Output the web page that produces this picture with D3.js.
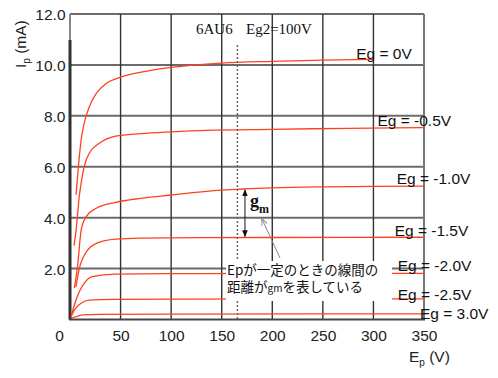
<!DOCTYPE html>
<html>
<head>
<meta charset="utf-8">
<script src="https://cdn.jsdelivr.net/npm/d3@7"></script>
<style>
  body { margin: 0; background: #fff; }
  svg { display: block; }
</style>
</head>
<body>
<script>
// axis ticks
const epTicks = [0, 50, 100, 150, 200, 250, 300, 350];
const ipTicks = [2, 4, 6, 8, 10, 12];

// plate characteristics (Ep in V, Ip in mA)
const ep0 = [6, 9, 11, 14, 19, 26, 36, 50, 75, 100, 150, 200, 250, 300];
const ip0 = [4.9, 6.3, 7.05, 7.7, 8.35, 8.88, 9.28, 9.52, 9.75, 9.9, 10.07, 10.14, 10.19, 10.22];
const ep05 = [4, 6, 7.6, 9.2, 11, 14, 19, 29, 45, 70, 100, 135, 200, 275, 350];
const ip05 = [2.9, 3.5, 4.17, 4.85, 5.35, 6.0, 6.53, 6.92, 7.2, 7.3, 7.37, 7.43, 7.47, 7.51, 7.54];
const ep10 = [4.3, 7.6, 11, 16, 26, 45, 70, 100, 150, 200, 250, 300, 350];
const ip10 = [1.23, 2.14, 3.5, 4.04, 4.37, 4.6, 4.76, 4.89, 5.08, 5.17, 5.21, 5.23, 5.24];
const ep15 = [5.9, 9.2, 12.6, 17.5, 26, 45, 70, 100, 200, 350];
const ip15 = [1.28, 2.01, 2.4, 2.73, 2.99, 3.16, 3.2, 3.21, 3.22, 3.23];
const ep20 = [1, 4.3, 9.2, 14, 22, 45, 100, 200, 350];
const ip20 = [0.11, 0.57, 1.09, 1.42, 1.68, 1.78, 1.8, 1.81, 1.81];
const ep25 = [1, 4.3, 11, 19, 45, 100, 350];
const ip25 = [0.11, 0.37, 0.64, 0.76, 0.79, 0.8, 0.81];
const ep30 = [1, 6, 12.6, 30, 100, 350];
const ip30 = [0.05, 0.11, 0.18, 0.2, 0.21, 0.22];

const curveNames = ["Eg = 0V", "Eg = -0.5V", "Eg = -1.0V", "Eg = -1.5V", "Eg = -2.0V", "Eg = -2.5V", "Eg = 3.0V"];
// where each label sits (Ep, Ip) in data units
const labelEp = [283, 304, 323, 321, 324, 324, 346];
const labelIp = [10.3, 7.67, 5.4, 3.35, 1.99, 0.85, 0.1];

const width = 498, height = 378;
const sans = "'Liberation Sans', Arial, sans-serif";
const serif = "'Liberation Serif', 'Times New Roman', serif";
const red = "#ff4020";

const svg = d3.select("body").append("svg")
    .attr("width", width)
    .attr("height", height);

const x = d3.scaleLinear().domain([0, 350]).range([70, 424]);
const y = d3.scaleLinear().domain([0, 12]).range([319.5, 14]);

// grid
svg.append("g").selectAll("line")
    .data(ipTicks)
    .join("line")
    .attr("x1", x(0)).attr("x2", x(350))
    .attr("y1", d => y(d)).attr("y2", d => y(d))
    .attr("stroke", "#6b6b6b").attr("stroke-width", 2);

svg.append("g").selectAll("line")
    .data(epTicks.slice(1, -1))
    .join("line")
    .attr("x1", d => x(d)).attr("x2", d => x(d))
    .attr("y1", y(12)).attr("y2", y(0))
    .attr("stroke", "#333").attr("stroke-width", 1.4);

// frame
svg.append("line")
    .attr("x1", x(350)).attr("x2", x(350)).attr("y1", y(12)).attr("y2", y(0))
    .attr("stroke", "#777").attr("stroke-width", 2);
svg.append("line")
    .attr("x1", x(0)).attr("x2", x(0)).attr("y1", y(12)).attr("y2", y(0))
    .attr("stroke", "#888").attr("stroke-width", 2);
svg.append("line")
    .attr("x1", x(0)).attr("x2", x(0)).attr("y1", 40).attr("y2", y(0))
    .attr("stroke", "#333").attr("stroke-width", 3);

// curves
const series = [[ep0, ip0], [ep05, ip05], [ep10, ip10], [ep15, ip15], [ep20, ip20], [ep25, ip25], [ep30, ip30]];
const line = d3.line()
    .x(d => x(d[0]))
    .y(d => y(d[1]))
    .curve(d3.curveMonotoneX);

svg.append("g").selectAll("path")
    .data(series)
    .join("path")
    .attr("d", s => line(s[0].map((e, i) => [e, s[1][i]])))
    .attr("fill", "none")
    .attr("stroke", red)
    .attr("stroke-width", 1.3);

// bottom axis line
svg.append("line")
    .attr("x1", x(0) - 1).attr("x2", x(350) + 1).attr("y1", y(0)).attr("y2", y(0))
    .attr("stroke", "#444").attr("stroke-width", 2);

// measuring line at Ep = 165V
const epMark = 165.5;
svg.append("line")
    .attr("x1", x(epMark)).attr("x2", x(epMark))
    .attr("y1", 45).attr("y2", y(0))
    .attr("stroke", "#666").attr("stroke-width", 1.5)
    .attr("stroke-dasharray", "2,2");

// axes labels
const xAxis = svg.append("g")
    .attr("transform", `translate(0,${y(0)})`)
    .call(d3.axisBottom(x).tickValues(epTicks).tickSize(0).tickPadding(10.5));
xAxis.select(".domain").remove();
xAxis.selectAll("text")
    .attr("font-family", sans).attr("font-size", 15.5).attr("fill", "#222")
    .attr("x", d => d === 0 ? -11 : 0);

const yAxis = svg.append("g")
    .attr("transform", `translate(${x(0)},0)`)
    .call(d3.axisLeft(y).tickValues(ipTicks).tickSize(0).tickPadding(4.5).tickFormat(d3.format(".1f")));
yAxis.select(".domain").remove();
yAxis.selectAll("text")
    .attr("font-family", sans).attr("font-size", 15.5).attr("fill", "#222")
    .attr("dy", "0.38em");

// axis titles
const yt = svg.append("text")
    .attr("transform", "translate(26,68) rotate(-90)")
    .attr("font-family", sans).attr("font-size", 15.5).attr("fill", "#222");
yt.append("tspan").text("I");
yt.append("tspan").attr("font-size", 10).attr("dy", 4).text("p");
yt.append("tspan").attr("dy", -4).text(" (mA)");

const xt = svg.append("text")
    .attr("x", 409).attr("y", 361.5)
    .attr("font-family", sans).attr("font-size", 15.5).attr("fill", "#222");
xt.append("tspan").text("E");
xt.append("tspan").attr("font-size", 10).attr("dy", 4).text("p");
xt.append("tspan").attr("dy", -4).text(" (V)");

// curve labels
svg.append("g").selectAll("text")
    .data(curveNames)
    .join("text")
    .attr("x", (d, i) => x(labelEp[i]))
    .attr("y", (d, i) => y(labelIp[i]) + 2)
    .attr("font-family", sans).attr("font-size", 15.5).attr("fill", "#111")
    .text(d => d);

// title
svg.append("text").attr("x", 196).attr("y", 34)
    .attr("font-family", serif).attr("font-size", 15).attr("fill", "#111")
    .text("6AU6");
svg.append("text").attr("x", 246).attr("y", 34)
    .attr("font-family", serif).attr("font-size", 15).attr("fill", "#111")
    .text("Eg2=100V");

// gm arrow between Eg=-1.0 and Eg=-1.5 at Ep=172V
const defs = svg.append("defs");
defs.append("marker").attr("id", "ah").attr("viewBox", "0 0 10 10")
    .attr("refX", 9).attr("refY", 5).attr("markerWidth", 7).attr("markerHeight", 7)
    .attr("orient", "auto-start-reverse")
    .append("path").attr("d", "M0,1L10,5L0,9Z").attr("fill", "#111");
defs.append("marker").attr("id", "gh").attr("viewBox", "0 0 10 10")
    .attr("refX", 9).attr("refY", 5).attr("markerWidth", 7).attr("markerHeight", 7)
    .attr("orient", "auto")
    .append("path").attr("d", "M0,1L10,5L0,9").attr("fill", "none").attr("stroke", "#888").attr("stroke-width", 1.3);

const epGm = 173;
svg.append("line")
    .attr("x1", x(epGm)).attr("x2", x(epGm))
    .attr("y1", y(5.13) + 1).attr("y2", y(3.22) - 1)
    .attr("stroke", "#111").attr("stroke-width", 1)
    .attr("marker-start", "url(#ah)").attr("marker-end", "url(#ah)");

const gm = svg.append("text").attr("x", 250).attr("y", 207)
    .attr("font-family", serif).attr("font-weight", "bold").attr("font-size", 18).attr("fill", "#111");
gm.append("tspan").text("g");
gm.append("tspan").attr("font-size", 12).attr("dy", 6).text("m");

// note box
svg.append("rect").attr("x", 226).attr("y", 261).attr("width", 166).attr("height", 40).attr("fill", "#fff");
svg.append("line")
    .attr("x1", 280).attr("y1", 258).attr("x2", 262).attr("y2", 219)
    .attr("stroke", "#888").attr("stroke-width", 1)
    .attr("marker-end", "url(#gh)");

const cjk = "'Noto Sans CJK JP', sans-serif";
svg.append("text").attr("x", 227).attr("y", 275)
    .attr("font-family", cjk).attr("font-size", 13.5).attr("fill", "#111")
    .text("Epが一定のときの線間の");
const note2 = svg.append("text").attr("x", 227).attr("y", 292)
    .attr("font-family", cjk).attr("font-size", 13.5).attr("fill", "#111");
note2.append("tspan").text("距離が");
note2.append("tspan").attr("font-size", 10).text("gm");
note2.append("tspan").text("を表している");
</script>
</body>
</html>
